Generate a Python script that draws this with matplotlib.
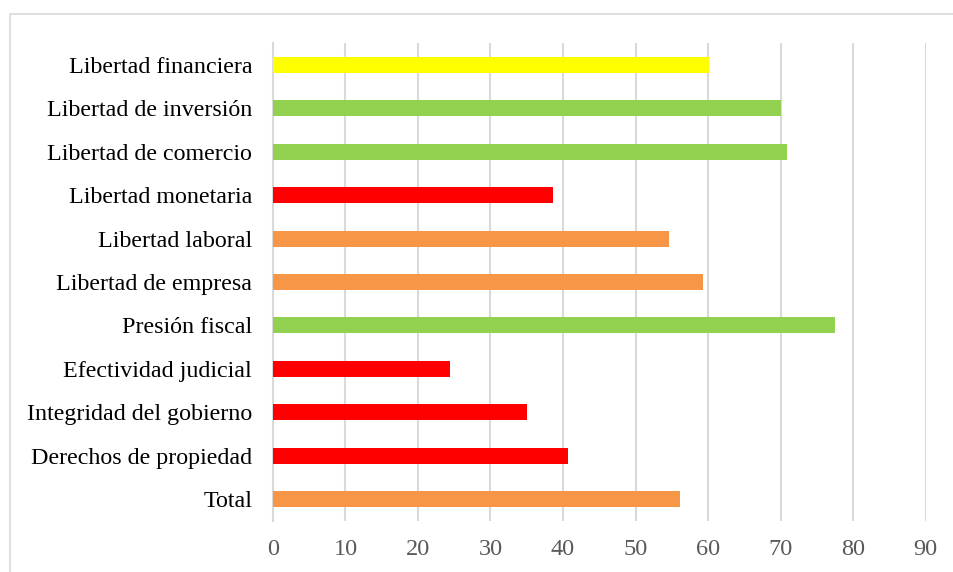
"""
Barras horizontales: componentes del indice de libertad economica.
Estilo tipo Excel (Times, rejilla gris vertical, marco exterior).
"""
import matplotlib.pyplot as plt
from matplotlib.patches import Rectangle

# datos (de abajo hacia arriba)
categorias = ['Total', 'Derechos de propiedad', 'Integridad del gobierno',
              'Efectividad judicial', 'Presión fiscal', 'Libertad de empresa',
              'Libertad laboral', 'Libertad monetaria', 'Libertad de comercio',
              'Libertad de inversión', 'Libertad financiera']
valores = [56.2, 40.7, 35.0, 24.4, 77.5, 59.3, 54.6, 38.6, 70.9, 70.0, 60.1]
colores = ['#F79646', '#FF0000', '#FF0000', '#FF0000', '#92D050', '#F79646',
           '#F79646', '#FF0000', '#92D050', '#92D050', '#FFFF00']
ticks_x = [0, 10, 20, 30, 40, 50, 60, 70, 80, 90]

plt.rcParams['font.family'] = ['Liberation Serif', 'DejaVu Serif']

fig = plt.figure(figsize=(9.54, 5.72), dpi=100)

# marco exterior del grafico
fig.patches.append(Rectangle((10 / 954, -0.05), 1.2, 1 - 14 / 572 + 0.05,
                             transform=fig.transFigure, fill=False,
                             edgecolor='#D9D9D9', linewidth=1.2))

ax = fig.add_axes([273 / 954, 1 - 521 / 572, (925.5 - 273) / 954, (521 - 43) / 572])

pos = range(len(categorias))
ax.barh(pos, valores, height=0.37, color=colores, zorder=3)

ax.set_xlim(0, 90)
ax.set_ylim(-0.5, len(categorias) - 0.5)
ax.set_xticks(ticks_x)
ax.set_yticks(list(pos))
ax.set_yticklabels(categorias, fontsize=17.3, color='black')
ax.tick_params(axis='x', labelsize=17.5, labelcolor='#595959', length=0, pad=13)
ax.tick_params(axis='y', length=0, pad=15)

ax.grid(axis='x', color='#D9D9D9', linewidth=1.5, zorder=0)
for s in ['top', 'right', 'bottom']:
    ax.spines[s].set_visible(False)
ax.spines['left'].set_color('#D9D9D9')
ax.spines['left'].set_linewidth(1.5)

fig.savefig('out.png', dpi=100)
